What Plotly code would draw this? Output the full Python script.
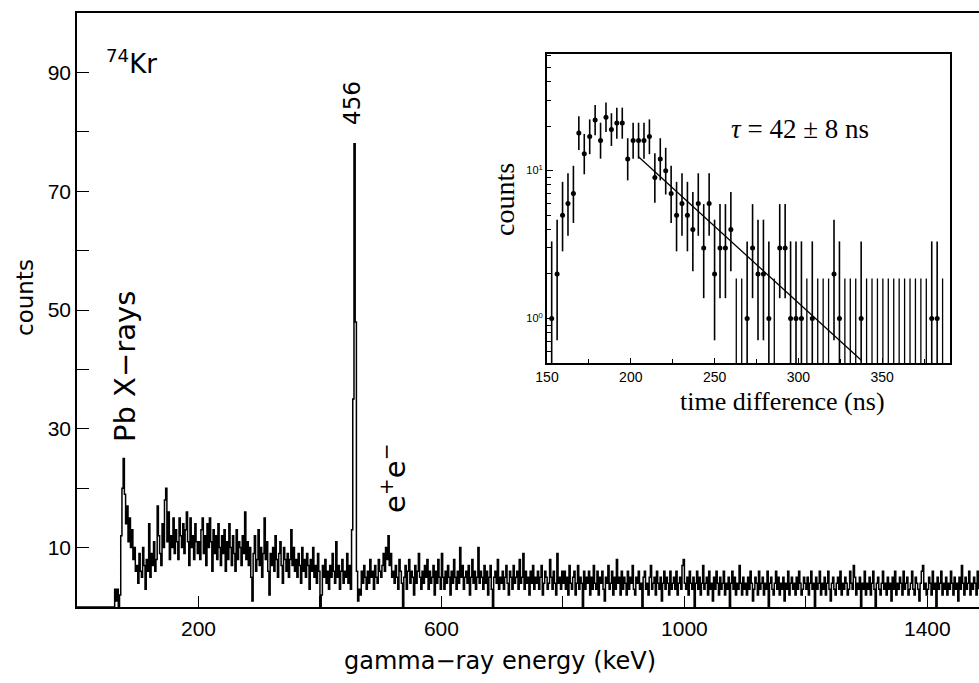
import math
import plotly.graph_objects as go

# ---------------- main spectrum (2 keV bins) ----------------
BIN_KEV = 2
seg_starts = [0, 200, 400, 600, 800, 1000, 1200, 1400]

counts_0_200 = [0]*30 + [0, 3, 1, 3, 0, 2,
    12, 20, 25, 19, 14, 17, 11, 15, 10, 13, 8, 10, 6, 7,
    4, 9, 6, 5, 10, 7, 3, 8, 6, 14, 5, 9, 7, 11, 6, 8,
    17, 12, 9, 7, 14, 10, 18, 20, 11, 16, 8, 12, 10, 15, 9, 13, 11, 8, 15, 12,
    10, 14, 9, 13, 16, 11, 7, 15, 10, 12, 8, 14, 11, 9]
counts_200_400 = [11, 8, 13, 15, 9, 12, 7, 14, 10, 15, 11, 6, 13, 9, 12, 8, 14, 10, 7, 12,
    9, 13, 6, 11, 8, 14, 10, 7, 12, 9, 6, 13, 8, 11, 10, 7, 12, 9, 16, 8,
    11, 7, 10, 5, 1, 9, 12, 6, 8, 13, 7, 10, 5, 9, 15, 8, 11, 6, 2, 9,
    7, 10, 6, 12, 8, 5, 9, 11, 7, 4, 10, 8, 6, 9, 5, 8, 13, 7, 10, 6,
    8, 5, 9, 7, 4, 10, 6, 8, 5, 9, 7, 3, 8, 6, 10, 5, 7, 4, 9, 6]
counts_400_600 = [0, 2, 7, 5, 8, 4, 6, 3, 7, 5,
    9, 6, 4, 11, 5, 7, 3, 6, 8, 4,
    6, 5, 9, 4, 7, 3, 13,
    35, 78, 48, 6,
    1, 3, 2, 6, 4,
    7, 5, 3, 6, 4, 8, 5, 6, 3, 7, 5, 4, 8, 6,
    5, 7, 9, 6, 10, 8, 12, 7, 9, 5,
    6, 4, 7, 5, 3, 8, 6, 4,
    0,
    5, 7, 3, 6, 8, 4, 6, 5, 2, 7, 4, 6, 9, 5, 3, 6, 4, 7, 5, 8, 3, 6, 4, 5, 7, 2, 6, 4, 8, 5, 3]
counts_600_800 = [9, 5, 3, 6, 4, 7, 5, 2, 6, 4, 8, 5, 3, 6, 4, 10, 5, 7, 3, 5,
    6, 4, 7, 2, 5, 8, 4, 6, 3, 5, 10, 4, 6, 5, 3, 7, 4, 6, 2, 5,
    7, 3, 0, 5, 6, 4, 8, 3, 5, 4,
    6, 3, 5, 7, 4, 2, 6, 5, 3, 7, 4, 5, 6, 3, 8, 4, 5, 9, 3, 6,
    4, 5, 2, 6, 4, 7, 3, 5, 4, 6, 3, 5, 7, 2, 4, 6, 5, 3, 4, 8,
    5, 3, 6, 4, 2, 9, 4, 5, 3, 6]
counts_800_1000 = [4, 6, 3, 5, 2, 7, 4, 3, 5, 6, 2, 4, 7, 3, 5, 4, 0, 6, 3, 5,
    4, 6, 2, 5, 3, 7, 4, 3, 6, 2, 5, 4, 6, 3, 1, 5, 4, 7, 3, 4,
    6, 2, 5, 3, 8, 4, 5, 2, 6, 3,
    5, 4, 2, 6, 3, 5, 4, 7, 3, 2, 5, 4, 6, 3, 4, 0, 5, 6, 3, 4,
    2, 5, 7, 3, 4, 5, 2, 6, 4, 3, 5, 1, 4, 6, 3, 5, 4, 2, 6, 3,
    4, 5, 3, 6, 2, 4, 5, 3, 7, 8]
counts_1000_1200 = [4, 3, 5, 2, 6, 4, 3, 5, 0, 4, 6, 3, 5, 2, 4, 7, 3, 4, 5, 2,
    6, 3, 4, 1, 5, 3, 6, 4, 2, 5, 3, 4, 6, 2, 4, 3, 5, 0, 4, 6,
    3, 5, 2, 4, 3, 7, 4, 2, 5, 3,
    4, 2, 5, 3, 6, 4, 1, 3, 5, 4, 2, 6, 3, 4, 5, 2, 4, 3, 6, 0,
    4, 5, 3, 2, 4, 6, 3, 5, 2, 4, 3, 5, 1, 4, 3, 6, 2, 4, 5, 3,
    4, 2, 5, 3, 6, 4, 2, 3, 5, 4]
counts_1200_1400 = [3, 5, 2, 4, 6, 3, 4, 0, 5, 3, 4, 6, 2, 4, 3, 5, 2, 4, 6, 3,
    1, 4, 5, 3, 2, 4, 5, 3, 6, 2, 4, 3, 5, 4, 2, 3, 6, 4, 3, 7,
    5, 2, 4, 3, 5, 0, 4, 3, 6, 2,
    4, 3, 5, 2, 4, 6, 3, 0, 4, 5, 3, 2, 4, 6, 3, 4, 2, 5, 3, 4,
    1, 5, 3, 6, 2, 4, 3, 5, 4, 2, 6, 3, 4, 5, 2, 3, 4, 6, 3, 2,
    5, 4, 3, 1, 4, 6, 7, 3, 4, 2]
counts_1400_1486 = [3, 5, 4, 2, 6, 3, 4, 0, 5, 3, 4, 6, 2, 4, 3, 5, 2, 4, 3, 6,
    4, 2, 5, 3, 4, 1, 5, 3, 7, 4, 2, 5, 3, 4, 6, 2, 4, 3, 5, 4, 2, 6, 3]

segments = [counts_0_200, counts_200_400, counts_400_600, counts_600_800,
            counts_800_1000, counts_1000_1200, counts_1200_1400, counts_1400_1486]

energy_kev, spectrum = [], []
for start, seg in zip(seg_starts, segments):
    for i, c in enumerate(seg):
        energy_kev.append(start + BIN_KEV * i)
        spectrum.append(c)

# ---------------- inset: time spectrum ----------------
TIME0_NS = 152.8
TIME_STEP_NS = 3.24
time_counts = [1, 2, 5, 6, 7, 18, 13, 17, 22, 16, 23, 19, 21, 21, 12, 16, 16, 16, 17, 9,
               12, 10, 7, 5, 6, 5, 4, 6, 3, 6, 2, 3, 3, 4,
               0, 0, 1, 3, 2, 2, 1, 0, 3, 3, 1, 1, 1, 0, 1, 0, 0, 0, 2, 1, 0, 0, 0, 1,
               0, 0, 0, 0, 0, 0, 0, 0, 0, 0, 0, 0,
               1, 1, 0]
time_ns = [TIME0_NS + TIME_STEP_NS * i for i in range(len(time_counts))]

fit_t_ns = [204.6, 337.7]
fit_counts = [12.4, 0.52]

# Poisson (Gehrels) 1-sigma limits for the error bars
def upper_lim(n):
    return n + 1 + math.sqrt(n + 0.75)

def lower_lim(n):
    if n == 0:
        return 0.0
    return n * (1 - 1 / (9 * n) - 1 / (3 * math.sqrt(n))) ** 3

nz_t, nz_c, nz_p, nz_m = [], [], [], []
z_t, z_up = [], []
for t, n in zip(time_ns, time_counts):
    if n > 0:
        nz_t.append(t); nz_c.append(n)
        nz_p.append(upper_lim(n) - n); nz_m.append(n - lower_lim(n))
    else:
        z_t.append(t); z_up.append(upper_lim(0))

# ---------------- geometry helpers ----------------
W, H = 979, 683
L, R, T, B = 77, 0, 13, 76
PW, PH = W - L - R, H - T - B

def px(x):
    return (x - L) / PW

def py(y):
    return (H - B - y) / PH

SANS = "DejaVu Sans"
ARIAL = "Liberation Sans"
SERIF = "Liberation Serif"

fig = go.Figure()
fig.add_trace(go.Scatter(x=energy_kev, y=spectrum, mode="lines",
                         line=dict(color="black", width=1.5, shape="hv"),
                         xaxis="x", yaxis="y", showlegend=False, hoverinfo="skip"))

fig.add_trace(go.Scatter(x=z_t, y=z_up, mode="markers",
                         marker=dict(size=1, color="rgba(0,0,0,0)"),
                         error_y=dict(type="data", symmetric=False, array=[0]*len(z_t),
                                      arrayminus=z_up, color="black", thickness=1.3, width=0),
                         xaxis="x2", yaxis="y2", showlegend=False))
fig.add_trace(go.Scatter(x=nz_t, y=nz_c, mode="markers",
                         marker=dict(size=5, color="black"),
                         error_y=dict(type="data", symmetric=False, array=nz_p,
                                      arrayminus=nz_m, color="black", thickness=1.6, width=0),
                         xaxis="x2", yaxis="y2", showlegend=False))
fig.add_trace(go.Scatter(x=fit_t_ns, y=fit_counts, mode="lines",
                         line=dict(color="black", width=1.3),
                         xaxis="x2", yaxis="y2", showlegend=False))

x_major = [200, 600, 1000, 1400]
x_minor = [400, 800, 1200]
y_major = [10, 30, 50, 70, 90]
y_minor = [20, 40, 60, 80]

ins_x_major = [150, 200, 250, 300, 350]
ins_x_minor = [175, 225, 275, 325, 375]
ins_y_major = [1, 10]
ins_y_labels = ["10<sup>0</sup>", "10<sup>1</sup>"]
ins_y_minor = [0.5, 0.6, 0.7, 0.8, 0.9, 2, 3, 4, 5, 6, 7, 8, 9, 20, 30, 40, 50, 60]

ix0, ix1, iy0, iy1 = 547, 950, 363, 54

fig.update_layout(
    width=W, height=H, margin=dict(l=L, r=R, t=T, b=B),
    paper_bgcolor="white", plot_bgcolor="white",
    xaxis=dict(domain=[0, 1], range=[0, 1485], tickmode="array", tickvals=x_major,
               ticks="inside", ticklen=11, tickwidth=1.3, tickcolor="black",
               minor=dict(tickmode="array", tickvals=x_minor, ticks="inside", ticklen=11,
                          tickwidth=1.3, tickcolor="black", showgrid=False),
               showline=True, linecolor="black", linewidth=1.5, mirror=True,
               showgrid=False, zeroline=False, ticklabelstandoff=2,
               tickfont=dict(family=ARIAL, size=21, color="black")),
    yaxis=dict(domain=[0, 1], range=[0, 100], tickmode="array", tickvals=y_major,
               ticks="inside", ticklen=12, tickwidth=1.3, tickcolor="black",
               minor=dict(tickmode="array", tickvals=y_minor, ticks="inside", ticklen=12,
                          tickwidth=1.3, tickcolor="black", showgrid=False),
               showline=True, linecolor="black", linewidth=1.5,
               showgrid=False, zeroline=False,
               tickfont=dict(family=ARIAL, size=21, color="black")),
    xaxis2=dict(domain=[px(ix0), px(ix1)], anchor="y2", range=[150, 390.5],
                tickmode="array", tickvals=ins_x_major, ticks="inside", ticklen=5,
                tickcolor="black",
                minor=dict(tickmode="array", tickvals=ins_x_minor, ticks="inside", ticklen=4,
                           tickcolor="black", showgrid=False),
                showline=True, linecolor="black", linewidth=1.8,
                mirror=True, showgrid=False, zeroline=False, ticklabelstandoff=0,
                tickfont=dict(family=ARIAL, size=14, color="black")),
    yaxis2=dict(domain=[py(iy0), py(iy1)], anchor="x2", type="log",
                range=[math.log10(0.5), math.log10(61.5)],
                tickmode="array", tickvals=ins_y_major, ticktext=ins_y_labels,
                ticks="inside", ticklen=6, tickcolor="black",
                minor=dict(tickmode="array", tickvals=ins_y_minor, ticks="inside", ticklen=4,
                           tickcolor="black", showgrid=False),
                showline=True, linecolor="black", linewidth=1.8,
                mirror=True, showgrid=False, zeroline=False,
                tickfont=dict(family=ARIAL, size=11, color="black")),
)

ann = []
def add_text(text, x, y, size, family=SANS, angle=0, xanchor="center"):
    ann.append(dict(text=text, x=px(x), y=py(y), xref="paper", yref="paper",
                    showarrow=False, textangle=angle, xanchor=xanchor, yanchor="middle",
                    font=dict(family=family, size=size, color="black")))

add_text("counts", 25, 298, 23, angle=-90)
add_text("gamma\u2212ray energy (keV)", 500, 661, 24)
add_text("<sup>74</sup>Kr", 104, 62, 26, xanchor="left")
add_text("Pb X\u2212rays", 125, 367, 29, angle=-90)
add_text("456", 352, 103, 23, angle=-90)
add_text("e<sup>+</sup>e<sup>\u2212</sup>", 393, 478, 29, angle=-90)
add_text("<i>\u03c4</i> = 42 \u00b1 8 ns", 800, 129, 27, family=SERIF)
add_text("time difference (ns)", 782, 401, 26, family=SERIF)
add_text("counts", 505, 200, 28, family=SERIF, angle=-90)

fig.update_layout(annotations=ann)
fig.write_html("out.html", config={"displayModeBar": False},
               post_script="document.body.style.margin='0px';")
